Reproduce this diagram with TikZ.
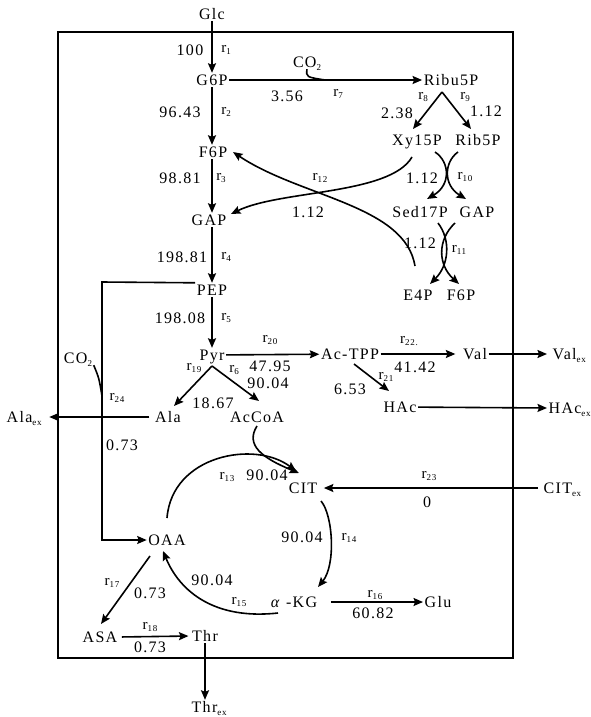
\documentclass[tikz,border=0pt]{standalone}
\usepackage{fontspec}
\setmainfont[LetterSpace=8]{Liberation Serif}
\usetikzlibrary{arrows.meta}
\newcommand\lsub[1]{\raisebox{-0.35ex}{\fontsize{9}{9}\selectfont #1}}
\newcommand\rx[1]{r\lsub{#1}}
\begin{document}
\begin{tikzpicture}[x=1pt,y=-1pt,
  every node/.style={font=\fontsize{16}{16}\selectfont, inner sep=1.5pt},
  met/.style={text height=11pt, text depth=0pt},
  num/.style={text height=11pt, text depth=0pt},
  rl/.style={text height=7pt, text depth=0pt, font=\fontsize{15}{15}\selectfont},
  flow/.style={line width=1.6pt, -{Stealth[length=9.5pt,width=8pt,inset=1.5pt]}},
  plain/.style={line width=1.6pt},
  frame/.style={line width=1.4pt}]
\useasboundingbox (0,0) rectangle (591,717);
\draw[frame] (58,32) rectangle (513,658);
% metabolites
\node[met] (Glc) at (212,14) {Glc};
\node[met] (G6P) at (212,80) {G6P};
\node[met] (Ribu5P) at (451,80) {Ribu5P};
\node[met] (Xy15P) at (417,140) {Xy15P};
\node[met] (Rib5P) at (478,140) {Rib5P};
\node[met] (Sed17P) at (420,212) {Sed17P};
\node[met] (GAPb) at (477,212) {GAP};
\node[met] (E4P) at (418,295) {E4P};
\node[met] (F6Pb) at (461,295) {F6P};
\node[met] (F6P) at (213,152) {F6P};
\node[met] (GAP) at (209,220) {GAP};
\node[met] (PEP) at (212,290) {PEP};
\node[met] (Pyr) at (212,355) {Pyr};
\node[met] (AcTPP) at (350,354) {Ac-TPP};
\node[met] (Val) at (475,354) {Val};
\node[met,anchor=west] (Valex) at (551,354) {Val\lsub{ex}};
\node[met] (HAc) at (400,407) {HAc};
\node[met,anchor=west] (HAcex) at (547,408) {HAc\lsub{ex}};
\node[met] (Ala) at (168,417) {Ala};
\node[met,anchor=west] (Alaex) at (5,417) {Ala\lsub{ex}};
\node[met] (AcCoA) at (257,417) {AcCoA};
\node[met] (CO2a) at (307,62) {CO\lsub{2}};
\node[met] (CO2b) at (78,358) {CO\lsub{2}};
\node[met] (CIT) at (303,488) {CIT};
\node[met,anchor=west] (CITex) at (542,488) {CIT\lsub{ex}};
\node[met] (OAA) at (167,540) {OAA};
\node[met] (aKG) at (294,602) {\textit{α} -KG};
\node[met] (Glu) at (438,602) {Glu};
\node[met] (ASA) at (100,637) {ASA};
\node[met] (Thr) at (205,636) {Thr};
\node[met,anchor=west] (Threx) at (190,707) {Thr\lsub{ex}};
% fluxes
\node[num] (f1) at (190,50) {100};
\node[num] (f7) at (287,96) {3.56};
\node[num] (f2) at (180,112) {96.43};
\node[num] (f8) at (397,113) {2.38};
\node[num] (f9) at (486,111) {1.12};
\node[num] (f3) at (180,178) {98.81};
\node[num] (f12) at (308,212) {1.12};
\node[num] (f10) at (422,178) {1.12};
\node[num] (f11) at (420,243) {1.12};
\node[num] (f4) at (182,257) {198.81};
\node[num] (f5) at (180,318) {198.08};
\node[num] (f20) at (270,366) {47.95};
\node[num] (f6) at (268,383) {90.04};
\node[num] (f19) at (213,403) {18.67};
\node[num] (f22) at (415,367) {41.42};
\node[num] (f21) at (350,389) {6.53};
\node[num] (f24) at (122,445) {0.73};
\node[num] (f13) at (267,475) {90.04};
\node[num] (f23) at (427,502) {0};
\node[num] (f14) at (302,537) {90.04};
\node[num] (f15) at (212,580) {90.04};
\node[num] (f17) at (150,593) {0.73};
\node[num] (f18) at (150,647) {0.73};
\node[num] (f16) at (373,613) {60.82};
% reaction labels
\node[rl] (r1) at (226,49) {\rx{1}};
\node[rl] (r7) at (338,93) {\rx{7}};
\node[rl] (r2) at (226,111) {\rx{2}};
\node[rl] (r8) at (423,96) {\rx{8}};
\node[rl] (r9) at (465,96) {\rx{9}};
\node[rl] (r3) at (221,177) {\rx{3}};
\node[rl] (r12) at (320,177) {\rx{12}};
\node[rl] (r10) at (465,176) {\rx{10}};
\node[rl] (r4) at (226,256) {\rx{4}};
\node[rl] (r11) at (459,249) {\rx{11}};
\node[rl] (r5) at (226,317) {\rx{5}};
\node[rl] (r20) at (270,339) {\rx{20}};
\node[rl] (r19) at (194,367) {\rx{19}};
\node[rl] (r6) at (234,369) {\rx{6}};
\node[rl] (r22) at (409,340) {\rx{22.}};
\node[rl] (r21) at (386,376) {\rx{21}};
\node[rl] (r24) at (117,397) {\rx{24}};
\node[rl] (r13) at (227,476) {\rx{13}};
\node[rl] (r23) at (429,475) {\rx{23}};
\node[rl] (r14) at (349,537) {\rx{14}};
\node[rl] (r17) at (112,582) {\rx{17}};
\node[rl] (r15) at (239,601) {\rx{15}};
\node[rl] (r16) at (375,594) {\rx{16}};
\node[rl] (r18) at (150,626) {\rx{18}};
% junction / end coordinates
\coordinate (j7) at (325,80);
\coordinate (rb) at (442,92);
\coordinate (t8) at (413,129);
\coordinate (t9) at (471,129);
\coordinate (s10a) at (435,152);
\coordinate (e10a) at (427,199);
\coordinate (s10b) at (458,152);
\coordinate (e10b) at (466,199);
\coordinate (s11a) at (438,223);
\coordinate (e11a) at (430,284);
\coordinate (s11b) at (455,223);
\coordinate (e11b) at (459,284);
\coordinate (s12a) at (412,157);
\coordinate (e12a) at (231,214);
\coordinate (s12b) at (415,266);
\coordinate (e12b) at (233,152);
\coordinate (pb) at (212,366);
\coordinate (t19) at (174,406);
\coordinate (t6) at (259,401);
\coordinate (s21) at (354,364);
\coordinate (t21) at (389,391);
\coordinate (pepc) at (102,282);
\coordinate (j24) at (102,396);
\coordinate (sAc) at (257,426);
\coordinate (tAc) at (299,473);
\coordinate (s13) at (167,518);
\coordinate (t13) at (296,471);
\coordinate (s14) at (321,501);
\coordinate (t14) at (318,587);
\coordinate (s15) at (278,613);
\coordinate (t15) at (163,551);
\coordinate (s17) at (150,556);
\coordinate (t17) at (101,624);
% main chain
\draw[flow] (Glc) -- (G6P);
\draw[flow] (G6P) -- (F6P.north -| G6P);
\draw[flow] (F6P.south -| G6P) -- (GAP.north -| G6P);
\draw[flow] (GAP.south -| G6P) -- (PEP);
\draw[flow] (PEP) -- (Pyr);
% pentose phosphate
\draw[flow] (G6P) -- (Ribu5P);
\draw[plain] (CO2a.south) .. controls (306,77) .. (j7);
\draw[flow] (rb) -- (t8);
\draw[flow] (rb) -- (t9);
\draw[flow] (s10a) .. controls (450,162) and (451,185) .. (e10a);
\draw[flow] (s10b) .. controls (444,162) and (443,185) .. (e10b);
\draw[flow] (s11a) .. controls (451,240) and (449,265) .. (e11a);
\draw[flow] (s11b) .. controls (437,240) and (438,265) .. (e11b);
\draw[flow] (s12a) .. controls (390,195) and (280,190) .. (e12a);
\draw[flow] (s12b) .. controls (405,205) and (300,197) .. (e12b);
% pyruvate node
\draw[flow] (Pyr) -- (AcTPP);
\draw[flow, shorten >=6pt] (AcTPP) -- (Val);
\draw[flow, shorten >=4pt] (Val) -- (Valex);
\draw[flow] (s21) -- (t21);
\draw[flow] (HAc) -- (HAcex.west);
\draw[flow] (pb) -- (t19);
\draw[flow] (pb) -- (t6);
\draw[flow, shorten <=4pt, shorten >=6pt] (Ala.west) -- (Alaex.east);
\draw[flow] (PEP.north west) -- (pepc) |- (OAA.west);
\draw[plain] (CO2b.south east) .. controls (99,378) .. (j24);
% TCA
\draw[flow] (sAc) .. controls (245,445) and (262,458) .. (tAc);
\draw[flow] (s13) .. controls (172,455) and (255,440) .. (t13);
\draw[flow] (s14) .. controls (333,515) and (336,565) .. (t14);
\draw[flow] (s15) .. controls (215,620) and (180,592) .. (t15);
\draw[flow, shorten <=4pt, shorten >=5pt] (CITex.west) -- (CIT.east);
\draw[flow, shorten <=12pt] (aKG.east) -- (Glu.west);
\draw[flow] (s17) -- (t17);
\draw[flow, shorten <=3pt, shorten >=2pt] (ASA.east) -- (Thr.west);
\draw[flow] (Thr.south) -- (Thr.south |- Threx.north);
\end{tikzpicture}
\end{document}
